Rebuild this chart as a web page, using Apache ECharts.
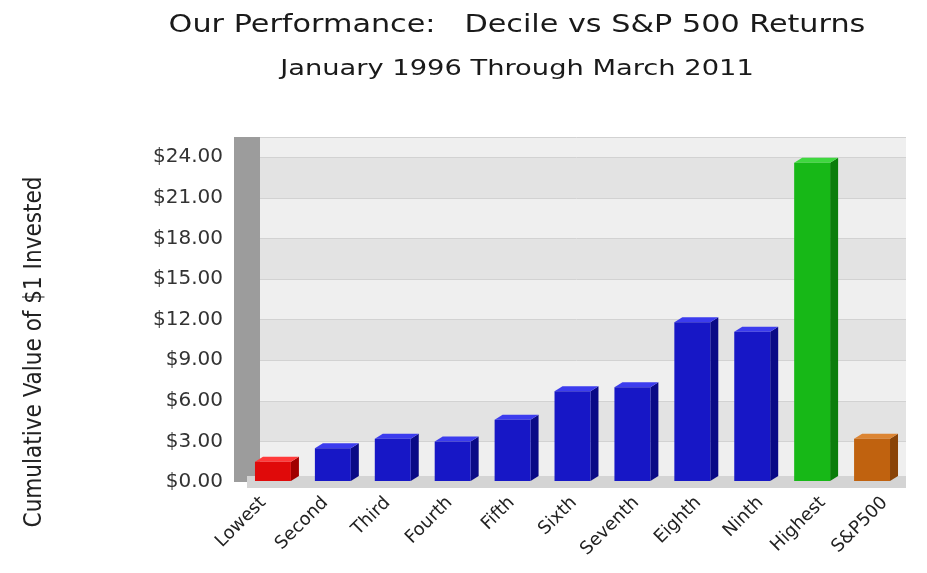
<!DOCTYPE html>
<html>
<head>
<meta charset="utf-8">
<script src="https://cdn.jsdelivr.net/npm/echarts@6/dist/echarts.min.js"></script>
<style>html,body{margin:0;padding:0;background:#fff}#c{width:927px;height:573px}</style>
</head>
<body>
<div id="c"></div>
<script>
const categories = ['Lowest','Second','Third','Fourth','Fifth','Sixth','Seventh','Eighth','Ninth','Highest','S&P500'];
const values = [1.5, 2.5, 3.2, 3.0, 4.6, 6.7, 7.0, 11.8, 11.1, 23.6, 3.2];
const yTicks = [0, 3, 6, 9, 12, 15, 18, 21, 24];
const titleText = 'Our Performance:   Decile vs S&P 500 Returns';
const subtitleText = 'January 1996 Through March 2011';
const yAxisName = 'Cumulative Value of $1 Invested';

const palette = {
  red:    {front:'#e00a0a', side:'#a00000', top:'#ff3a3a'},
  blue:   {front:'#1717c6', side:'#0a0a86', top:'#3c3cee'},
  green:  {front:'#17b817', side:'#0b7d0b', top:'#3fd83f'},
  orange: {front:'#c0620f', side:'#8a4408', top:'#dc8533'}
};
function colorFor(i){
  if (i === 0) return palette.red;
  if (i === categories.length - 2) return palette.green;
  if (i === categories.length - 1) return palette.orange;
  return palette.blue;
}

const FONT = 'DejaVu Sans';
const chart = echarts.init(document.getElementById('c'), null, {renderer:'canvas'});
chart.setOption({
  animation: false,
  backgroundColor: '#ffffff',
  grid: [
    {left: 247, right: 21, top: 137, bottom: 91},
    {left: 232, right: 11, top: 137, bottom: 91}
  ],
  xAxis: [{
    type: 'category', data: categories, gridIndex: 0,
    axisTick: {show: false},
    axisLine: {lineStyle: {color: '#d4d4d4', width: 12, cap: 'butt'}},
    axisLabel: {show: false}
  }, {
    type: 'category', data: categories, gridIndex: 1,
    axisTick: {show: false},
    axisLine: {show: false},
    axisLabel: {rotate: 45, interval: 0, margin: 18, fontFamily: FONT, fontSize: 18, color: '#222'}
  }],
  yAxis: [{
    type: 'value', min: 0, max: 25.5, interval: 3, gridIndex: 0,
    axisLine: {show: true, lineStyle: {color: '#9c9c9c', width: 26, cap: 'butt'}},
    axisTick: {show: false},
    axisLabel: {
      margin: 24, fontFamily: FONT, fontSize: 20, color: '#333',
      formatter: v => yTicks.indexOf(v) >= 0 ? '$' + v.toFixed(2) : ''
    },
    splitLine: {lineStyle: {color: '#d2d2d2', width: 1}},
    splitArea: {show: true, areaStyle: {color: ['#efefef', '#e3e3e3']}}
  }, {
    type: 'value', min: 0, max: 25.5, gridIndex: 1, show: false
  }],
  graphic: [{
    type: 'text', x: 517, y: 25, scaleX: 1.21,
    style: {
      text: titleText,
      font: '25px "DejaVu Sans"',
      fill: '#1a1a1a', align: 'center', verticalAlign: 'middle'
    }
  }, {
    type: 'text', x: 517, y: 70, scaleX: 1.3,
    style: {
      text: subtitleText,
      font: '21px "DejaVu Sans"',
      fill: '#1a1a1a', align: 'center', verticalAlign: 'middle'
    }
  }, {
    type: 'text', x: 35, y: 352, rotation: Math.PI / 2,
    style: {
      text: yAxisName,
      font: '24px "Liberation Sans Narrow", "DejaVu Sans Condensed", sans-serif',
      fill: '#222', align: 'center', verticalAlign: 'middle'
    }
  }],
  series: [{
    type: 'custom',
    xAxisIndex: 0, yAxisIndex: 0,
    data: values.map((v, i) => [i, v]),
    encode: {x: 0, y: 1},
    renderItem: function (params, api) {
      const i = api.value(0), v = api.value(1);
      const top = api.coord([i, v]);
      const base = api.coord([i, 0]);
      const bw = api.size([1, 0])[0] * 0.6;
      const dx = 8, dy = 5;
      const x0 = top[0] - bw / 2 - dx / 2, x1 = x0 + bw;
      const c = colorFor(i);
      const yb = base[1] - 1;
      return {
        type: 'group',
        children: [
          {type: 'polygon', shape: {points: [[x1, top[1]], [x1 + dx, top[1] - dy], [x1 + dx, yb - dy], [x1, yb]]},
           style: {fill: c.side}},
          {type: 'polygon', shape: {points: [[x0, top[1]], [x0 + dx, top[1] - dy], [x1 + dx, top[1] - dy], [x1, top[1]]]},
           style: {fill: c.top}},
          {type: 'rect', shape: {x: x0, y: top[1], width: bw, height: yb - top[1]},
           style: {fill: c.front}}
        ]
      };
    }
  }]
});
</script>
</body>
</html>
